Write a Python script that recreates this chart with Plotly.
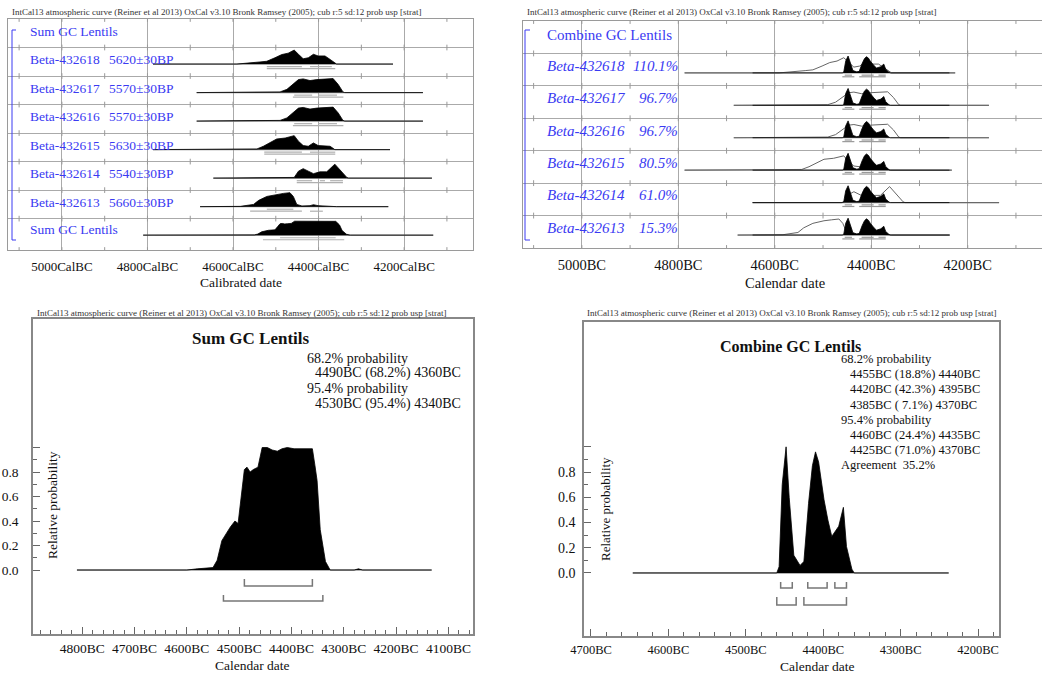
import plotly.graph_objects as go

W, H = 1042, 673
SERIF = "Liberation Serif"
BLUE = "#3a3af2"
GRID = "#aaaaaa"
BOX = "#9a9a9a"

TITLE = ("IntCal13 atmospheric curve (Reiner et al 2013) OxCal v3.10 Bronk Ramsey (2005); "
         "cub r:5 sd:12 prob usp [strat]")

# ---------------- data ----------------
SAMPLES = ["Beta-432618", "Beta-432617", "Beta-432616", "Beta-432615", "Beta-432614", "Beta-432613"]
RC_AGES = ["5620±30BP", "5570±30BP", "5570±30BP", "5630±30BP", "5540±30BP", "5660±30BP"]
AGREEMENT = ["110.1%", "96.7%", "96.7%", "80.5%", "61.0%", "15.3%"]

B618_YEARS = [4787, 4591, 4537, 4521, 4502, 4486, 4471, 4457, 4447, 4436, 4424, 4412, 4401, 4385, 4373, 4358, 4226]
B618_PROB = [0, 0, 0.15, 0.2, 0.45, 0.68, 0.78, 1.0, 0.7, 0.38, 0.45, 0.7, 0.58, 0.58, 0.33, 0, 0]

B617_YEARS = [4685, 4500, 4490, 4474, 4457, 4447, 4436, 4420, 4404, 4385, 4366, 4354, 4343, 4339, 4156]
B617_PROB = [0, 0, 0.05, 0.23, 0.7, 0.93, 0.98, 0.86, 0.93, 0.98, 1.0, 0.58, 0.05, 0, 0]

B616_YEARS = [4685, 4500, 4490, 4474, 4457, 4447, 4436, 4420, 4404, 4385, 4366, 4354, 4343, 4339, 4156]
B616_PROB = [0, 0, 0.05, 0.23, 0.7, 0.93, 0.98, 0.86, 0.93, 0.98, 1.0, 0.58, 0.05, 0, 0]

B615_YEARS = [4787, 4560, 4544, 4529, 4513, 4498, 4478, 4463, 4457, 4447, 4436, 4424, 4412, 4401, 4385, 4373, 4362, 4233]
B615_PROB = [0, 0, 0.05, 0.24, 0.48, 0.76, 0.83, 0.95, 1.0, 0.6, 0.29, 0.24, 0.48, 0.29, 0.29, 0.24, 0, 0]

B614_YEARS = [4646, 4462, 4457, 4447, 4436, 4424, 4412, 4397, 4381, 4362, 4350, 4334, 4330, 4135]
B614_PROB = [0, 0, 0.05, 0.5, 0.68, 0.5, 0.32, 0.45, 0.45, 1.0, 0.61, 0.05, 0, 0]

B613_YEARS = [4677, 4600, 4583, 4552, 4540, 4521, 4498, 4482, 4467, 4459, 4451, 4439, 4420, 4412, 4401, 4366, 4358, 4237]
B613_PROB = [0, 0, 0.02, 0.16, 0.45, 0.73, 0.89, 0.95, 1.0, 0.73, 0.16, 0.05, 0.07, 0.14, 0.07, 0.02, 0, 0]

SUM_YEARS = [4810, 4600, 4580, 4560, 4550, 4542, 4533, 4517, 4508, 4502, 4496, 4490, 4485, 4479, 4473,
             4464, 4456, 4446, 4437, 4427, 4418, 4408, 4395, 4383, 4370, 4360, 4355, 4351, 4345, 4335,
             4326, 4280, 4272, 4264, 4132]
SUM_PROB = [0, 0, 0.01, 0.015, 0.02, 0.08, 0.24, 0.35, 0.40, 0.38, 0.60, 0.82, 0.84, 0.80, 0.82,
            0.84, 1.0, 1.0, 0.98, 0.97, 0.99, 1.0, 0.99, 0.99, 0.99, 0.99, 0.85, 0.73, 0.33, 0.07,
            0, 0, 0.01, 0, 0]

COMB_YEARS = [4646, 4460, 4457, 4453, 4448, 4444, 4438, 4430, 4425, 4419, 4414, 4410, 4406, 4402,
              4399, 4394, 4389, 4380, 4374, 4370, 4363, 4360, 4238]
COMB_PROB = [0, 0, 0.05, 0.7, 1.0, 0.6, 0.14, 0.06, 0.09, 0.55, 0.85, 0.96, 0.88, 0.7,
             0.58, 0.42, 0.29, 0.37, 0.52, 0.21, 0.03, 0, 0]

# likelihood outline heights relative to the combined posterior (second top panel)
OUTLINE_SCALE = [0.9, 0.8, 0.8, 0.85, 0.95, 0.95]

R68 = {
    "Beta-432618": [(4521, 4439), (4420, 4369)],
    "Beta-432617": [(4457, 4415), (4401, 4357)],
    "Beta-432616": [(4457, 4415), (4401, 4357)],
    "Beta-432615": [(4527, 4439), (4420, 4361)],
    "Beta-432614": [(4451, 4415), (4397, 4385), (4373, 4343)],
    "Beta-432613": [(4521, 4459)],
    "Sum": [(4490, 4360)],
    "Combine": [(4455, 4440), (4420, 4395), (4385, 4370)],
}
R95 = {
    "Beta-432618": [(4521, 4361)],
    "Beta-432617": [(4460, 4342)],
    "Beta-432616": [(4460, 4342)],
    "Beta-432615": [(4527, 4361)],
    "Beta-432614": [(4451, 4343)],
    "Beta-432613": [(4560, 4439), (4420, 4390)],
    "Sum": [(4530, 4340)],
    "Combine": [(4460, 4435), (4425, 4370)],
}

DIST = {
    "Beta-432618": (B618_YEARS, B618_PROB),
    "Beta-432617": (B617_YEARS, B617_PROB),
    "Beta-432616": (B616_YEARS, B616_PROB),
    "Beta-432615": (B615_YEARS, B615_PROB),
    "Beta-432614": (B614_YEARS, B614_PROB),
    "Beta-432613": (B613_YEARS, B613_PROB),
    "Sum": (SUM_YEARS, SUM_PROB),
    "Combine": (COMB_YEARS, COMB_PROB),
}

TOP_TICKS = [5000, 4800, 4600, 4400, 4200]
TOP_MINOR = [5100, 5000, 4900, 4800, 4700, 4600, 4500, 4400, 4300, 4200, 4100]
SUM_TICKS = [4800, 4700, 4600, 4500, 4400, 4300, 4200, 4100]
COMB_TICKS = [4700, 4600, 4500, 4400, 4300, 4200]
PROB_TICKS = [0.0, 0.2, 0.4, 0.6, 0.8, 1.0]
PROB_LABELS = ["0.0", "0.2", "0.4", "0.6", "0.8", ""]
PROB_MINOR = [0.1, 0.3, 0.5, 0.7, 0.9]

SUM_TEXT = ["68.2% probability", "4490BC (68.2%) 4360BC", "95.4% probability", "4530BC (95.4%) 4340BC"]
COMB_TEXT = ["68.2% probability", "4455BC (18.8%) 4440BC", "4420BC (42.3%) 4395BC",
             "4385BC (\u00a07.1%) 4370BC", "95.4% probability", "4460BC (24.4%) 4435BC",
             "4425BC (71.0%) 4370BC", "Agreement\u00a0\u00a035.2%"]

fig = go.Figure()


def px(x):
    return x / W


def py(y):
    return 1 - y / H


annotations = []


def ann(x, y, text, size, color="#111", xanchor="left", bold=False, italic=False, textangle=0):
    t = f"<b>{text}</b>" if bold else text
    t = f"<i>{t}</i>" if italic else t
    annotations.append(dict(x=px(x), y=py(y), xref="paper", yref="paper", text=t, showarrow=False,
                            xanchor=xanchor, yanchor="middle", textangle=textangle,
                            font=dict(family=SERIF, size=size, color=color)))


def row_ticks(xa, ya, rows, years, half):
    xs, ys = [], []
    for r in rows:
        for yr in years:
            xs += [yr, yr, None]
            ys += [r - half, r + half, None]
    fig.add_trace(go.Scatter(x=xs, y=ys, mode="lines", line=dict(color="#999", width=1),
                             xaxis=xa, yaxis=ya, hoverinfo="skip"))


def ranges_top(xa, ya, key, base, off68, off95, color, width):
    for rng, off in ((R68[key], off68), (R95[key], off95)):
        xs, ys = [], []
        for a, b in rng:
            xs += [a, b, None]
            ys += [base + off, base + off, None]
        fig.add_trace(go.Scatter(x=xs, y=ys, mode="lines", line=dict(color=color, width=width),
                                 xaxis=xa, yaxis=ya, hoverinfo="skip"))


def filled(xa, ya, key, base, h, sign=-1, color="black"):
    yrs, pr = DIST[key]
    fig.add_trace(go.Scatter(x=yrs, y=[base + sign * p * h for p in pr], mode="lines",
                             fill="toself", fillcolor=color, line=dict(color=color, width=0.8),
                             xaxis=xa, yaxis=ya, hoverinfo="skip"))


def baseline(xa, ya, key, base, color="#888", width=1.2):
    yrs, _ = DIST[key]
    fig.add_trace(go.Scatter(x=[yrs[0], yrs[-1]], y=[base, base], mode="lines",
                             line=dict(color=color, width=width), xaxis=xa, yaxis=ya, hoverinfo="skip"))


# ---------------- panel 1: Sum multiplot ----------------
row_ticks("x", "y", [0, 1, 2, 3, 4, 5, 6, 7, 8.1], TOP_MINOR, 0.1)
keys1 = SAMPLES + ["Sum"]
H1 = 0.49
for i, key in enumerate(keys1, start=1):
    base = i + 0.58
    baseline("x", "y", key, base)
    ranges_top("x", "y", key, base, 0.09, 0.16, "#b0b0b0", 1.2)
    filled("x", "y", key, base, H1)

# ---------------- panel 2: Combine multiplot ----------------
row_ticks("x2", "y2", [0, 1, 2, 3, 4, 5, 6, 7], TOP_MINOR, 0.09)
H2 = 0.52
for i, key in enumerate(SAMPLES, start=1):
    base = i + 0.6
    baseline("x2", "y2", key, base)
    ranges_top("x2", "y2", "Combine", base, 0.07, 0.12, "#999", 1.2)
    yrs, pr = DIST[key]
    s = OUTLINE_SCALE[i - 1]
    fig.add_trace(go.Scatter(x=yrs, y=[base - p * H2 * s for p in pr], mode="lines",
                             line=dict(color="#666", width=1), xaxis="x2", yaxis="y2", hoverinfo="skip"))
    filled("x2", "y2", "Combine", base, H2)

# ---------------- panel 3: Sum ----------------
baseline("x3", "y3", "Sum", 0, color="#999", width=1.5)
filled("x3", "y3", "Sum", 0, 1.0, sign=1)


def brackets(xa, ya, key, y68, y68t, y95, y95t):
    for rng, yb, yt in ((R68[key], y68, y68t), (R95[key], y95, y95t)):
        xs, ys = [], []
        for a, b in rng:
            xs += [a, a, b, b, None]
            ys += [yt, yb, yb, yt, None]
        fig.add_trace(go.Scatter(x=xs, y=ys, mode="lines", line=dict(color="#777", width=1.5),
                                 xaxis=xa, yaxis=ya, hoverinfo="skip"))


brackets("x3", "y3", "Sum", -0.13, -0.073, -0.253, -0.204)

# ---------------- panel 4: Combine ----------------
baseline("x4", "y4", "Combine", 0, color="#999", width=1.5)
filled("x4", "y4", "Combine", 0, 1.0, sign=1)
brackets("x4", "y4", "Combine", -0.119, -0.071, -0.254, -0.19)


# ---------------- axes ----------------
def top_x(domain, rng, suffix, size, anchor):
    return dict(domain=domain, range=rng, anchor=anchor, tickvals=TOP_TICKS, automargin=False,
                ticktext=[f"{t}{suffix}" for t in TOP_TICKS], showgrid=True, gridcolor=GRID,
                gridwidth=1, ticks="", showline=True, linecolor=BOX, linewidth=1, mirror=True,
                zeroline=False, tickfont=dict(family=SERIF, size=size, color="#111"),
                ticklabelstandoff=4)


def top_y(domain, rng, n, anchor):
    return dict(domain=domain, range=rng, anchor=anchor, tickvals=list(range(1, n)), automargin=False,
                showticklabels=False, ticks="", showgrid=True, gridcolor=GRID, gridwidth=1,
                showline=True, linecolor=BOX, linewidth=1, mirror=True, zeroline=False)


def bot_x(domain, rng, ticks, size, anchor):
    return dict(domain=domain, range=rng, anchor=anchor, tickvals=ticks, automargin=False,
                ticktext=[f"{t}BC" for t in ticks], showgrid=False, ticks="inside", ticklen=7,
                tickcolor="#666", tickwidth=1, showline=True, linecolor="#888", linewidth=1.5,
                mirror=True, zeroline=False, tickfont=dict(family=SERIF, size=size, color="#111"),
                ticklabelstandoff=1,
                minor=dict(tickvals=[v for t in ticks + [ticks[-1] - 100] for v in (t + 80, t + 60, t + 40, t + 20)],
                           ticks="inside", ticklen=4, tickcolor="#666", showgrid=False))


def bot_y(domain, rng, size, anchor, standoff):
    return dict(domain=domain, range=rng, anchor=anchor, tickvals=PROB_TICKS, ticktext=PROB_LABELS,
                automargin=False,
                showgrid=False, ticks="inside", ticklen=7, tickcolor="#666", tickwidth=1,
                showline=True, linecolor="#888", linewidth=1.5, mirror=True, zeroline=False,
                tickfont=dict(family=SERIF, size=size, color="#111"), ticklabelstandoff=standoff,
                minor=dict(tickvals=PROB_MINOR, ticks="inside", ticklen=4, tickcolor="#666",
                           showgrid=False))


fig.update_layout(
    width=W, height=H, margin=dict(l=0, r=0, t=0, b=0, autoexpand=False),
    paper_bgcolor="white", plot_bgcolor="white", showlegend=False,
    xaxis=top_x([px(8), px(473)], [5126, 4039], "CalBC", 13, "y"),
    yaxis=top_y([py(250), py(19)], [8.1, 0], 8, "x"),
    xaxis2=top_x([px(523), 1.0], [5122, 4046], "BC", 14.5, "y2"),
    yaxis2=top_y([py(248), py(21)], [7, 0], 7, "x2"),
    xaxis3=bot_x([px(33), px(473)], [4894, 4053], SUM_TICKS, 13.5, "y3"),
    yaxis3=bot_y([py(634), py(319)], [-0.522, 2.049], 13.5, "x3", 10),
    xaxis4=bot_x([px(584), px(999)], [4709, 4173], COMB_TICKS, 12.5, "y4"),
    yaxis4=bot_y([py(636), py(322)], [-0.5, 1.99], 14, "x4", 4),
)

# ---------------- text ----------------
for x, y in ((10, 12), (525, 12), (35, 313), (585, 313)):
    ann(x, y, TITLE, 9, color="#333")

# panel 1 labels
ann(28, 31, "Sum GC Lentils", 13.5, color=BLUE)
for i, (s, a) in enumerate(zip(SAMPLES, RC_AGES), start=1):
    yc = 19 + (i + 0.43) * 28.5
    ann(28, yc, s, 13.5, color=BLUE)
    ann(107, yc, a, 13.5, color=BLUE)
ann(28, 19 + 7.4 * 28.5, "Sum GC Lentils", 13.5, color=BLUE)
ann(241, 282, "Calibrated date", 13.5, xanchor="center")

# panel 2 labels
ann(545, 35, "Combine GC Lentils", 15, color=BLUE)
for i, (s, a) in enumerate(zip(SAMPLES, AGREEMENT), start=1):
    yc = 21 + (i + 0.38) * 32.43
    ann(545, yc, s, 15, color=BLUE, italic=True)
    ann(680, yc, a, 15, color=BLUE, italic=True, xanchor="right")
ann(785, 283, "Calendar date", 14.5, xanchor="center")

# panel 3 text
ann(251, 338, "Sum GC Lentils", 17, bold=True, xanchor="center")
for j, t in enumerate(SUM_TEXT):
    ann(305 if j % 2 == 0 else 313, 358 + j * 15.2, t, 14)
ann(52, 505, "Relative probability", 13.5, textangle=-90, xanchor="center")
ann(252, 665, "Calendar date", 13.5, xanchor="center")

# panel 4 text
ann(790, 347, "Combine GC Lentils", 16, bold=True, xanchor="center")
for j, t in enumerate(COMB_TEXT):
    indent = not (t.startswith("68.2") or t.startswith("95.4") or t.startswith("Agreement"))
    ann(848 if indent else 839, 359 + j * 15.2, t, 12.5)
ann(605, 509, "Relative probability", 13, textangle=-90, xanchor="center")
ann(817, 666, "Calendar date", 13.5, xanchor="center")

fig.update_layout(annotations=annotations)

# blue brackets
shapes = []
for x0, y0, y1, tick in ((12, 30, 240, 4), (525, 30, 240, 5)):
    shapes.append(dict(type="line", xref="paper", yref="paper", x0=px(x0), x1=px(x0), y0=py(y0), y1=py(y1),
                       line=dict(color=BLUE, width=1)))
    for yy in (y0, y1):
        shapes.append(dict(type="line", xref="paper", yref="paper", x0=px(x0), x1=px(x0 + tick), y0=py(yy),
                           y1=py(yy), line=dict(color=BLUE, width=1)))
fig.update_layout(shapes=shapes)

fig.write_html("out.html")
